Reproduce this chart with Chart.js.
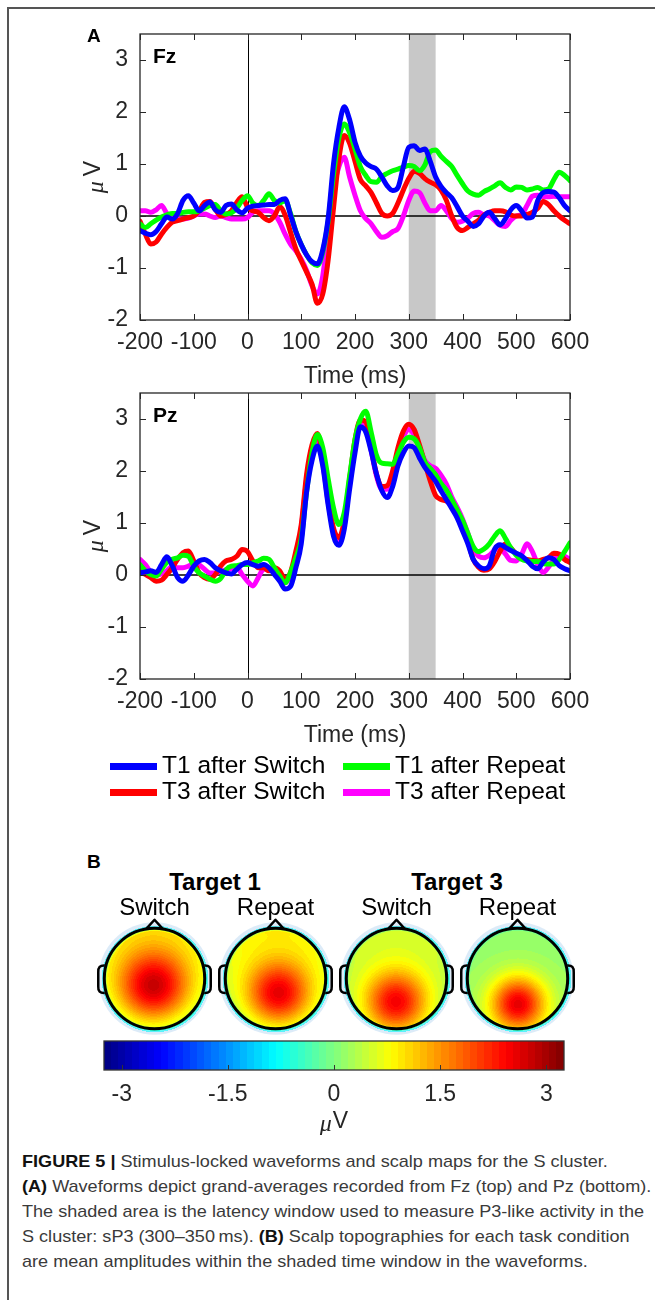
<!DOCTYPE html>
<html>
<head>
<meta charset="utf-8">
<script src="https://cdn.jsdelivr.net/npm/chart.js@4.4.1/dist/chart.umd.min.js"></script>
<style>
  html, body { margin: 0; padding: 0; background: #fff; }
  body { position: relative; width: 655px; height: 1300px; overflow: hidden; font-family: "Liberation Sans", Arial, sans-serif; color: #000; }
  canvas { position: absolute; left: 0; }
  .t { position: absolute; white-space: nowrap; line-height: 1; }
  .c { text-align: center; width: 200px; }
  .sw { position: absolute; height: 7px; width: 47px; }
  .cap { position: absolute; left: 22px; white-space: nowrap; font-size: 17px; line-height: 1; color: #3a3a3a; transform-origin: 0 0; }
  .cap b { color: #111; }
  .rule { position: absolute; background: #555; }
</style>
</head>
<body>
<div class="rule" style="left:7px;top:7px;width:648px;height:1.5px"></div>
<div class="rule" style="left:7px;top:7px;width:1.5px;height:1293px"></div>
<canvas id="fz" width="655" height="395" style="top:0"></canvas>
<canvas id="pz" width="655" height="395" style="top:359px"></canvas>
<canvas id="maps" width="655" height="125" style="top:915px"></canvas>
<canvas id="cbar" width="655" height="105" style="top:1030px"></canvas>
<div id="labels"></div>

<div class="cap" style="top:1153px"><b>FIGURE 5 |</b> Stimulus-locked waveforms and scalp maps for the S cluster.</div>
<div class="cap" style="top:1178px"><b>(A)</b> Waveforms depict grand-averages recorded from Fz (top) and Pz (bottom).</div>
<div class="cap" style="top:1203px">The shaded area is the latency window used to measure P3-like activity in the</div>
<div class="cap" style="top:1228px">S cluster: sP3 (300&ndash;350&thinsp;ms). <b>(B)</b> Scalp topographies for each task condition</div>
<div class="cap" style="top:1253px">are mean amplitudes within the shaded time window in the waveforms.</div>

<script>
// time axis (ms)
const timeMs = [
  -200, -190, -180, -170, -160, -150, -140, -130, -120, -110,
  -100, -90, -80, -70, -60, -50, -40, -30, -20, -10,
  0, 10, 20, 30, 40, 50, 60, 70, 80, 90,
  100, 110, 120, 130, 140, 150, 160, 170, 180, 190,
  200, 210, 220, 230, 240, 250, 260, 270, 280, 290,
  300, 310, 320, 330, 340, 350, 360, 370, 380, 390,
  400, 410, 420, 430, 440, 450, 460, 470, 480, 490,
  500, 510, 520, 530, 540, 550, 560, 570, 580, 590,
  600
];

// Fz grand averages (uV)
const fzT1Switch = [
  -0.28, -0.33, -0.36, -0.3, -0.15, -0.02, -0.06, 0.05, 0.3, 0.39,
  0.25, 0.1, 0.2, 0.27, 0.12, 0.07, 0.2, 0.23, 0.12, 0.06,
  0.15, 0.19, 0.2, 0.21, 0.22, 0.22, 0.3, 0.33, 0.02, -0.3,
  -0.55, -0.75, -0.88, -0.92, -0.65, -0.05, 1.0, 1.7, 2.1, 1.85,
  1.42, 1.15, 1.02, 0.95, 0.9, 0.75, 0.58, 0.49, 0.55, 0.95,
  1.32, 1.35, 1.26, 1.29, 1.05, 0.75, 0.57, 0.45, 0.35, 0.18,
  0.0, -0.1, -0.2, -0.15, 0.0, 0.07, -0.05, -0.17, -0.05, 0.12,
  0.2, 0.1, -0.04, -0.02, 0.3, 0.45, 0.47, 0.46, 0.35, 0.2,
  0.1
];
const fzT1Repeat = [
  -0.15, -0.22, -0.15, -0.08, -0.02, 0.02, 0.05, 0.05, 0.07, 0.08,
  0.08, 0.1, 0.15, 0.2, 0.22, 0.1, 0.04, 0.06, 0.15, 0.3,
  0.39, 0.25, 0.2, 0.3, 0.43, 0.3, 0.25, 0.3, 0.05, -0.3,
  -0.55, -0.75, -0.9, -0.95, -0.7, -0.1, 0.8, 1.5, 1.77, 1.6,
  1.29, 0.95, 0.78, 0.66, 0.65, 0.76, 0.82, 0.87, 0.9, 0.94,
  0.97, 0.95, 0.87, 0.98, 1.24, 1.27, 1.15, 1.05, 0.95, 0.78,
  0.62, 0.48, 0.42, 0.4, 0.47, 0.52, 0.58, 0.64, 0.55, 0.5,
  0.56, 0.55, 0.5, 0.52, 0.55, 0.5, 0.52, 0.7, 0.84, 0.78,
  0.68
];
const fzT3Switch = [
  -0.1, -0.35, -0.54, -0.5, -0.35, -0.22, -0.12, -0.09, -0.06, -0.03,
  0.0, 0.1, 0.26, 0.28, 0.13, 0.0, 0.03, 0.1, 0.26, 0.37,
  0.17, 0.1, 0.07, -0.03, -0.09, 0.0, 0.18, 0.02, -0.31, -0.63,
  -0.86, -1.08, -1.31, -1.68, -1.5, -0.85, 0.15, 1.1, 1.55, 1.4,
  1.05, 0.7, 0.58, 0.45, 0.25, 0.05, 0.0, 0.05, 0.25, 0.5,
  0.72, 0.86, 0.82, 0.72, 0.65, 0.6, 0.5, 0.3, 0.0, -0.22,
  -0.28, -0.22, -0.15, -0.08, 0.02, 0.07, 0.1, 0.1, 0.08, 0.02,
  0.0, 0.0, 0.03, 0.07, 0.15, 0.28, 0.22, 0.1, 0.0, -0.08,
  -0.15
];
const fzT3Repeat = [
  0.1, 0.1, 0.07, 0.12, 0.2, 0.05, -0.03, -0.05, -0.06, -0.04,
  0.0, 0.04, 0.04, 0.0, -0.03, 0.0, -0.03, -0.06, -0.06, -0.06,
  -0.03, 0.07, 0.1, 0.1, 0.1, 0.04, -0.12, -0.35, -0.54, -0.67,
  -0.83, -1.05, -1.34, -1.5, -1.15, -0.3, 0.52, 0.95, 1.13, 0.75,
  0.4, 0.1, -0.05, -0.15, -0.3, -0.41, -0.38, -0.3, -0.24, 0.0,
  0.3, 0.48, 0.45, 0.25, 0.1, 0.1, 0.2, 0.1, -0.05, -0.12,
  -0.1, -0.04, 0.05, 0.07, 0.02, 0.0, -0.09, -0.18, -0.2, -0.08,
  0.0, 0.03, 0.2, 0.38, 0.4, 0.37, 0.37, 0.38, 0.37, 0.37,
  0.37
];

// Pz grand averages (uV)
const pzT1Switch = [
  0.04, 0.06, 0.08, 0.05, 0.2, 0.35, 0.18, -0.05, -0.12, 0.0,
  0.17, 0.27, 0.3, 0.24, 0.14, 0.08, 0.04, 0.02, 0.11, 0.2,
  0.24, 0.2, 0.17, 0.2, 0.14, 0.01, -0.12, -0.27, -0.22, 0.14,
  0.6, 1.6, 2.2, 2.48, 2.1, 1.35, 0.75, 0.57, 0.88, 1.65,
  2.35, 2.85, 2.75, 2.38, 1.94, 1.62, 1.49, 1.7, 2.1, 2.35,
  2.48, 2.45, 2.25, 2.07, 1.94, 1.8, 1.62, 1.45, 1.28, 1.1,
  0.85, 0.6, 0.3, 0.17, 0.12, 0.18, 0.5, 0.58, 0.53, 0.47,
  0.42, 0.37, 0.28, 0.17, 0.12, 0.25, 0.33, 0.3, 0.18, 0.12,
  0.08
];
const pzT1Repeat = [
  0.2, 0.08, 0.01, -0.02, 0.11, 0.24, 0.3, 0.33, 0.38, 0.36,
  0.17, 0.04, -0.02, -0.08, -0.12, -0.07, 0.1, 0.17, 0.18, 0.2,
  0.2, 0.24, 0.27, 0.32, 0.3, 0.14, -0.02, -0.15, 0.05, 0.33,
  0.7, 1.6, 2.35, 2.7, 2.45, 1.85, 1.29, 0.97, 1.2, 1.9,
  2.6, 3.0, 3.15, 2.75, 2.3, 2.15, 2.14, 2.13, 2.33, 2.55,
  2.65, 2.62, 2.45, 2.17, 2.05, 1.93, 1.76, 1.63, 1.45, 1.25,
  1.05, 0.8, 0.55, 0.45, 0.5, 0.6, 0.75, 0.85, 0.7, 0.52,
  0.38, 0.3, 0.27, 0.26, 0.26, 0.22, 0.21, 0.21, 0.3, 0.45,
  0.62
];
const pzT3Switch = [
  0.08, 0.01, -0.05, -0.12, -0.1, 0.01, 0.14, 0.3, 0.43, 0.46,
  0.27, 0.04, -0.05, -0.08, 0.01, 0.17, 0.27, 0.3, 0.36, 0.49,
  0.45, 0.27, 0.14, 0.14, 0.08, 0.14, 0.08, -0.08, 0.05, 0.46,
  0.97, 1.94, 2.5, 2.72, 2.25, 1.5, 0.9, 0.72, 1.05, 1.85,
  2.6, 2.98, 2.95, 2.45, 1.94, 1.7, 1.72, 2.0, 2.45, 2.77,
  2.9, 2.8, 2.5, 2.15, 1.81, 1.53, 1.45, 1.42, 1.33, 1.15,
  0.9, 0.65, 0.3, 0.15, 0.09, 0.12, 0.26, 0.46, 0.6, 0.52,
  0.4, 0.33, 0.3, 0.28, 0.27, 0.3, 0.33, 0.42, 0.4, 0.3,
  0.24
];
const pzT3Repeat = [
  0.3, 0.2, 0.05, 0.0, 0.02, 0.08, 0.17, 0.14, 0.14, 0.17,
  0.22, 0.2, 0.11, 0.04, 0.04, 0.07, 0.1, 0.12, 0.15, 0.01,
  -0.12, -0.21, -0.05, 0.11, 0.11, 0.08, -0.02, -0.15, 0.0, 0.38,
  0.9, 1.85, 2.4, 2.6, 2.15, 1.4, 0.85, 0.62, 0.95, 1.8,
  2.5, 2.9, 2.9, 2.4, 1.9, 1.65, 1.65, 1.95, 2.35, 2.65,
  2.8, 2.7, 2.45, 2.2, 2.1, 2.05, 1.92, 1.75, 1.5, 1.3,
  1.08, 0.8, 0.5, 0.36, 0.33, 0.38, 0.48, 0.53, 0.4, 0.28,
  0.27, 0.4, 0.6, 0.45, 0.2, 0.05, 0.15, 0.3, 0.38, 0.36,
  0.3
];

const xTicks = [-200, -100, 0, 100, 200, 300, 400, 500, 600];
const yTicks = [-2, -1, 0, 1, 2, 3];
const windowMs = [300, 350];
const seriesNames = ['T1 after Switch', 'T3 after Switch', 'T1 after Repeat', 'T3 after Repeat'];
const seriesColors = ['#0000ff', '#ff0000', '#00ff00', '#ff00ff'];

// scalp maps: mean amplitude in 300-350 ms window (uV)
const mapGroups = ['Target 1', 'Target 3'];
const mapConditions = ['Switch', 'Repeat', 'Switch', 'Repeat'];
const mapPeak = [2.8, 2.6, 2.5, 2.6];
const mapPeakU = [-0.03, 0.05, -0.02, 0.0];
const mapPeakV = [0.12, 0.27, 0.45, 0.5];
const mapSpread = [0.52, 0.46, 0.44, 0.38];
const mapTop = [0.85, 0.9, 0.6, 0.15];
const mapBottom = [-0.1, 0.0, 0.1, 0.2];

const cbRange = [-3.25, 3.25];
const cbTicks = [-3, -1.5, 0, 1.5, 3];

const FONT = '"Liberation Sans", Arial, sans-serif';
const AXIS = '#262626';

function jet(t) {
  const c = f => Math.round(255 * Math.min(1, Math.max(0, f)));
  return [c(1.5 - Math.abs(4 * t - 3)), c(1.5 - Math.abs(4 * t - 2)), c(1.5 - Math.abs(4 * t - 1))];
}
function jetLevel(v) {
  const n = 64;
  let k = Math.floor((v - cbRange[0]) / (cbRange[1] - cbRange[0]) * n);
  k = Math.max(0, Math.min(n - 1, k));
  return jet((k + 0.5) / n);
}

function drawMu(ctx, cx, cy, gap, rotate) {
  ctx.save();
  ctx.translate(cx, cy);
  if (rotate) ctx.rotate(-Math.PI / 2);
  ctx.fillStyle = AXIS;
  ctx.textBaseline = 'middle';
  ctx.textAlign = 'left';
  const muFont = 'italic 24px "Liberation Serif", serif';
  const vFont = '23px ' + FONT;
  ctx.font = muFont;
  const wm = ctx.measureText('\u03bc').width;
  ctx.font = vFont;
  const wv = ctx.measureText('V').width;
  const x0 = -(wm + gap + wv) / 2;
  ctx.font = muFont;
  ctx.fillText('\u03bc', x0, 3);
  ctx.font = vFont;
  ctx.fillText('V', x0 + wm + gap, 0);
  ctx.restore();
}

const panelPlugin = {
  id: 'panel',
  beforeDatasetsDraw(chart) {
    const { ctx, chartArea: a, scales: { x, y } } = chart;
    ctx.save();
    const x0 = x.getPixelForValue(windowMs[0]);
    const x1 = x.getPixelForValue(windowMs[1]);
    ctx.fillStyle = '#c8c8c8';
    ctx.fillRect(x0, a.top, x1 - x0, a.bottom - a.top);
    ctx.strokeStyle = '#000';
    ctx.lineWidth = 1;
    const xz = Math.round(x.getPixelForValue(0)) + 0.5;
    ctx.beginPath(); ctx.moveTo(xz, a.top); ctx.lineTo(xz, a.bottom); ctx.stroke();
    ctx.lineWidth = 1.6;
    const yz = y.getPixelForValue(0);
    ctx.beginPath(); ctx.moveTo(a.left, yz); ctx.lineTo(a.right, yz); ctx.stroke();
    ctx.restore();
  },
  afterDraw(chart, args, opts) {
    const { ctx, chartArea: a, scales: { x, y } } = chart;
    ctx.save();
    ctx.strokeStyle = AXIS;
    ctx.lineWidth = 1.3;
    ctx.strokeRect(a.left, a.top, a.right - a.left, a.bottom - a.top);
    ctx.beginPath();
    x.ticks.forEach(t => {
      const p = Math.round(x.getPixelForValue(t.value)) + 0.5;
      ctx.moveTo(p, a.bottom); ctx.lineTo(p, a.bottom - 6);
      ctx.moveTo(p, a.top); ctx.lineTo(p, a.top + 6);
    });
    y.ticks.forEach(t => {
      const p = Math.round(y.getPixelForValue(t.value)) + 0.5;
      ctx.moveTo(a.left, p); ctx.lineTo(a.left + 6, p);
      ctx.moveTo(a.right, p); ctx.lineTo(a.right - 6, p);
    });
    ctx.lineWidth = 1;
    ctx.stroke();
    ctx.fillStyle = AXIS;
    ctx.font = '23px ' + FONT;
    ctx.textAlign = 'center';
    ctx.textBaseline = 'alphabetic';
    ctx.fillText('Time (ms)', (a.left + a.right) / 2, a.bottom + 63);
    drawMu(ctx, a.left - 46, (a.top + a.bottom) / 2, 5, true);
    ctx.fillStyle = '#000';
    ctx.font = 'bold 21px ' + FONT;
    ctx.textAlign = 'left';
    ctx.fillText(opts.label, a.left + 13, a.top + 29);
    ctx.restore();
  }
};

function waveChart(id, label, series) {
  const drawOrder = [0, 2, 1, 3]; // blue on top, then green, red, magenta
  return new Chart(document.getElementById(id), {
    type: 'line',
    data: {
      datasets: drawOrder.map(i => ({
        label: seriesNames[i],
        data: timeMs.map((t, k) => ({ x: t, y: series[i][k] })),
        borderColor: seriesColors[i],
        borderWidth: 5,
        pointRadius: 0,
        cubicInterpolationMode: 'monotone',
        borderJoinStyle: 'round',
        borderCapStyle: 'round'
      }))
    },
    options: {
      responsive: false,
      animation: false,
      devicePixelRatio: 1,
      layout: { padding: { left: 80, right: 85, top: 34, bottom: 0 } },
      plugins: { legend: { display: false }, tooltip: { enabled: false }, panel: { label } },
      scales: {
        x: {
          type: 'linear', min: -200, max: 600,
          afterBuildTicks: s => { s.ticks = xTicks.map(v => ({ value: v })); },
          afterFit: s => { s.height = 75; },
          grid: { display: false, drawTicks: false },
          border: { display: false },
          ticks: { font: { size: 23, family: FONT }, color: AXIS, padding: 9, maxRotation: 0, autoSkip: false, callback: v => String(v) }
        },
        y: {
          type: 'linear', min: -2, max: 3.5,
          afterBuildTicks: s => { s.ticks = yTicks.map(v => ({ value: v })); },
          afterFit: s => { s.width = 60; },
          grid: { display: false, drawTicks: false },
          border: { display: false },
          ticks: { font: { size: 23, family: FONT }, color: AXIS, padding: 12, autoSkip: false, callback: v => String(v) }
        }
      }
    },
    plugins: [panelPlugin]
  });
}

waveChart('fz', 'Fz', [fzT1Switch, fzT3Switch, fzT1Repeat, fzT3Repeat]);
waveChart('pz', 'Pz', [pzT1Switch, pzT3Switch, pzT1Repeat, pzT3Repeat]);

// scalp maps
function fieldValue(i, u, v) {
  const base = mapTop[i] + (mapBottom[i] - mapTop[i]) * (v + 1) / 2;
  const du = u - mapPeakU[i], dv = v - mapPeakV[i];
  const g = Math.exp(-(du * du + dv * dv) / (2 * mapSpread[i] * mapSpread[i]));
  return base + (mapPeak[i] - base) * g;
}

function drawHead(ctx, cx, cy, R, i) {
  // pale halo
  ctx.save();
  ctx.fillStyle = 'rgba(214,231,247,0.85)';
  ctx.beginPath(); ctx.arc(cx, cy, R * 1.12, 0, Math.PI * 2); ctx.fill();
  const size = Math.ceil(R * 2.3);
  const off = document.createElement('canvas');
  off.width = off.height = size;
  const octx = off.getContext('2d');
  const img = octx.createImageData(size, size);
  for (let py = 0; py < size; py++) {
    for (let px = 0; px < size; px++) {
      const u = (px + 0.5 - size / 2) / R;
      const v = (py + 0.5 - size / 2) / R;
      const rr = Math.hypot(u, v);
      if (rr > 1.06) continue;
      let val = fieldValue(i, u, v);
      if (rr > 0.95) {
        const t = Math.min(1, (rr - 0.95) / 0.1);
        val = val * (1 - t) + (-0.9) * t;
      }
      const c = jetLevel(val);
      const o = (py * size + px) * 4;
      img.data[o] = c[0]; img.data[o + 1] = c[1]; img.data[o + 2] = c[2];
      img.data[o + 3] = rr > 1.03 ? 150 : 255;
    }
  }
  octx.putImageData(img, 0, 0);
  ctx.drawImage(off, Math.round(cx - size / 2), Math.round(cy - size / 2));

  ctx.strokeStyle = '#000';
  ctx.lineWidth = 3;
  ctx.lineJoin = 'round';
  ctx.beginPath(); ctx.arc(cx, cy, R, 0, Math.PI * 2); ctx.stroke();
  // nose
  ctx.lineWidth = 2.5;
  ctx.beginPath();
  ctx.moveTo(cx - 0.17 * R, cy - 0.985 * R);
  ctx.lineTo(cx, cy - 1.17 * R);
  ctx.lineTo(cx + 0.17 * R, cy - 0.985 * R);
  ctx.stroke();
  // ears
  [-1, 1].forEach(s => {
    ctx.beginPath();
    ctx.moveTo(cx + s * 0.99 * R, cy - 0.26 * R);
    ctx.quadraticCurveTo(cx + s * 1.13 * R, cy - 0.27 * R, cx + s * 1.12 * R, cy - 0.12 * R);
    ctx.lineTo(cx + s * 1.12 * R, cy + 0.16 * R);
    ctx.quadraticCurveTo(cx + s * 1.13 * R, cy + 0.3 * R, cx + s * 0.99 * R, cy + 0.29 * R);
    ctx.stroke();
  });
  ctx.restore();
}

new Chart(document.getElementById('maps'), {
  type: 'scatter',
  data: { datasets: [{ data: mapConditions.map((c, i) => ({ x: i, y: 0 })), pointRadius: 0 }] },
  options: {
    responsive: false, animation: false, devicePixelRatio: 1,
    layout: { padding: { left: 94, right: 77, top: 10, bottom: 8 } },
    plugins: { legend: { display: false }, tooltip: { enabled: false } },
    scales: {
      x: { type: 'linear', min: -0.5, max: 3.5, display: false },
      y: { type: 'linear', min: -1, max: 1, display: false }
    }
  },
  plugins: [{
    id: 'heads',
    afterDatasetsDraw(chart) {
      const { ctx, scales: { x } } = chart;
      const R = x.getPixelForValue(0.415) - x.getPixelForValue(0);
      chart.getDatasetMeta(0).data.forEach((pt, i) => drawHead(ctx, pt.x, pt.y, R, i));
    }
  }]
});

// colorbar
new Chart(document.getElementById('cbar'), {
  type: 'scatter',
  data: { datasets: [{ data: [] }] },
  options: {
    responsive: false, animation: false, devicePixelRatio: 1,
    layout: { padding: { left: 104, right: 91, top: 11, bottom: 0 } },
    plugins: { legend: { display: false }, tooltip: { enabled: false } },
    scales: {
      x: {
        type: 'linear', min: cbRange[0], max: cbRange[1],
        afterBuildTicks: s => { s.ticks = cbTicks.map(v => ({ value: v })); },
        afterFit: s => { s.height = 65; },
        grid: { display: false, drawTicks: false },
        border: { display: false },
        ticks: { font: { size: 23, family: FONT }, color: AXIS, padding: 11, maxRotation: 0, autoSkip: false, callback: v => String(v) }
      },
      y: { type: 'linear', min: 0, max: 1, display: false }
    }
  },
  plugins: [{
    id: 'jetbar',
    beforeDatasetsDraw(chart) {
      const { ctx, chartArea: a, scales: { x } } = chart;
      const n = 64;
      ctx.save();
      for (let k = 0; k < n; k++) {
        const v0 = cbRange[0] + (cbRange[1] - cbRange[0]) * k / n;
        const v1 = cbRange[0] + (cbRange[1] - cbRange[0]) * (k + 1) / n;
        const p0 = Math.floor(x.getPixelForValue(v0));
        const p1 = Math.ceil(x.getPixelForValue(v1));
        const c = jet((k + 0.5) / n);
        ctx.fillStyle = `rgb(${c[0]},${c[1]},${c[2]})`;
        ctx.fillRect(p0, a.top, p1 - p0, a.bottom - a.top);
      }
      ctx.strokeStyle = '#333';
      ctx.lineWidth = 1.3;
      ctx.strokeRect(a.left, a.top, a.right - a.left, a.bottom - a.top);
      ctx.beginPath();
      x.ticks.forEach(t => {
        const p = Math.round(x.getPixelForValue(t.value)) + 0.5;
        ctx.moveTo(p, a.bottom); ctx.lineTo(p, a.bottom - 5);
      });
      ctx.lineWidth = 1;
      ctx.stroke();
      drawMu(ctx, x.getPixelForValue(0), a.bottom + 52, 1, false);
      ctx.restore();
    }
  }]
});

// text labels
const labels = document.getElementById('labels');
function addText(html, left, top, cls, style) {
  const d = document.createElement('div');
  d.className = 't ' + (cls || '');
  d.style.left = left + 'px';
  d.style.top = top + 'px';
  if (style) d.style.cssText += style;
  d.innerHTML = html;
  labels.appendChild(d);
  return d;
}
addText('A', 87, 26, '', 'font-weight:bold;font-size:19px');
addText('B', 87, 852, '', 'font-weight:bold;font-size:19px');

const legendCols = [110, 343];
const legendRows = [763, 789];
seriesNames.forEach((name, i) => {
  const col = i < 2 ? 0 : 1;
  const row = i % 2;
  const sw = document.createElement('div');
  sw.className = 'sw';
  sw.style.left = legendCols[col] + 'px';
  sw.style.top = legendRows[row] + 'px';
  sw.style.background = seriesColors[i];
  labels.appendChild(sw);
  addText(name, legendCols[col] + 52, legendRows[row] - 9.7, '', 'font-size:24.5px');
});

const headCenters = [154.5, 275.5, 396.5, 517.5];
mapGroups.forEach((g, k) => {
  const c = (headCenters[2 * k] + headCenters[2 * k + 1]) / 2;
  addText(g, c - 100, 869.7, 'c', 'font-weight:bold;font-size:24px');
});
mapConditions.forEach((m, i) => {
  addText(m, headCenters[i] - 100, 894.7, 'c', 'font-size:24px');
});

// fit caption width
const caps = document.querySelectorAll('.cap');
caps.forEach(c => { c.style.display = 'inline-block'; });
const k = 622 / caps[2].getBoundingClientRect().width;
caps.forEach(c => { c.style.transform = `scaleX(${k})`; });
</script>
</body>
</html>
